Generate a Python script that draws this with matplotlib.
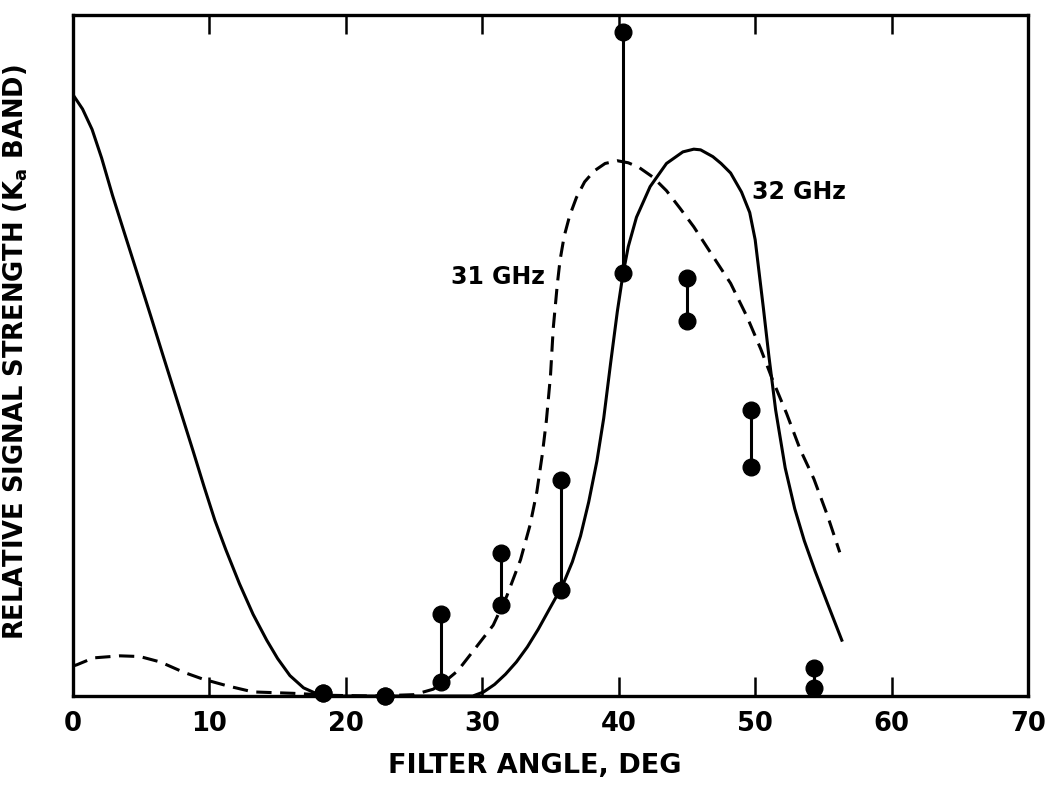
import matplotlib

matplotlib.use("Agg")
import matplotlib.pyplot as plt

plt.rcParams["font.family"] = ["DejaVu Sans"]
plt.rcParams["font.weight"] = "bold"
plt.rcParams["mathtext.fontset"] = "custom"
plt.rcParams["mathtext.rm"] = "DejaVu Sans:bold"
plt.rcParams["mathtext.bf"] = "DejaVu Sans:bold"

# 32 GHz curve (solid)
ghz32_x = [0, 0.7, 1.4, 2.1, 2.9, 3.8, 4.8, 5.7, 6.6, 7.7, 8.8, 9.6, 10.4,
           11.2, 12.2, 13.2, 14.2, 15.0, 15.9, 16.9, 17.9, 18.8, 22.0, 26.0,
           29.3, 30.1, 30.9, 31.7, 32.5, 33.3, 34.1, 34.9, 35.9, 36.6, 37.2,
           37.8, 38.4, 38.9, 39.4, 39.9, 40.3, 40.7, 41.3, 42.3, 43.5, 44.7,
           45.5, 46.0, 46.9, 47.5, 48.2, 49.0, 49.6, 50.0, 50.3, 50.6, 51.0,
           51.5, 52.2, 52.9, 53.6, 54.4, 55.3, 56.35]
ghz32_y = [0.883, 0.862, 0.832, 0.79, 0.735, 0.678, 0.615, 0.558, 0.5, 0.43,
           0.36, 0.308, 0.258, 0.215, 0.165, 0.12, 0.082, 0.055, 0.03, 0.012,
           0.003, 0.0, 0.0, 0.0, 0.0, 0.006, 0.017, 0.032, 0.05, 0.072, 0.098,
           0.127, 0.163, 0.197, 0.235, 0.285, 0.345, 0.408, 0.488, 0.565,
           0.618, 0.66, 0.703, 0.748, 0.782, 0.799, 0.803, 0.802, 0.792,
           0.782, 0.768, 0.74, 0.71, 0.67, 0.62, 0.57, 0.5, 0.42, 0.335,
           0.275, 0.228, 0.183, 0.136, 0.082]

# 31 GHz curve (dashed)
ghz31_x = [0, 0.3, 1.5, 3.45, 4.9, 6.4, 8.1, 9.5, 11.3, 13.2, 16.1, 19.0, 22.0,
           25.0, 26.4, 27.3, 28.2, 29.6, 30.8, 31.8, 32.8, 33.5, 34.0, 34.4,
           34.7, 35.0, 35.2, 35.5, 35.7, 36.0, 36.4, 36.9, 37.5, 38.2, 39.0,
           39.9, 40.7, 41.5, 42.5, 43.5, 44.5, 45.5, 46.7, 48.2, 49.4, 50.4,
           51.3, 52.3, 53.3, 54.3, 55.3, 56.2]
ghz31_y = [0.044, 0.046, 0.056, 0.059, 0.058, 0.05, 0.035, 0.025, 0.015, 0.006,
           0.004, 0.001, 0.0, 0.002, 0.01, 0.022, 0.037, 0.073, 0.104, 0.147,
           0.2, 0.251, 0.3, 0.355, 0.405, 0.471, 0.54, 0.605, 0.64, 0.675,
           0.705, 0.732, 0.755, 0.771, 0.782, 0.786, 0.783, 0.776, 0.762,
           0.742, 0.716, 0.689, 0.652, 0.606, 0.557, 0.51, 0.463, 0.415,
           0.362, 0.319, 0.265, 0.211]

# measured points: each pair joined by a vertical bar
meas_x = [18.3, 22.9, 27.0, 31.4, 35.8, 40.3, 45.0, 49.7, 54.3]
meas_hi = [0.004, 0.0, 0.12, 0.21, 0.317, 0.975, 0.614, 0.42, 0.041]
meas_lo = [0.004, 0.0, 0.021, 0.134, 0.156, 0.621, 0.551, 0.336, 0.012]

x_ticks = [0, 10, 20, 30, 40, 50, 60, 70]

fig = plt.figure(figsize=(10.47, 7.94), dpi=100)
ax = fig.add_axes([0.0697, 0.1234, 0.9122, 0.8577])

lw = 2.2
ax.plot(ghz32_x, ghz32_y, color="black", lw=lw, solid_joinstyle="round")
ax.plot(ghz31_x, ghz31_y, color="black", lw=lw, linestyle=(0, (5, 2.8)))

ax.vlines(meas_x, meas_lo, meas_hi, color="black", lw=lw, zorder=4)
ax.plot(meas_x, meas_hi, "o", color="black", ms=12, zorder=5, clip_on=False)
ax.plot(meas_x, meas_lo, "o", color="black", ms=12, zorder=5, clip_on=False)

ax.text(34.6, 0.615, "31 GHz", fontsize=17, fontweight="bold",
        ha="right", va="center")
ax.text(49.8, 0.74, "32 GHz", fontsize=17, fontweight="bold",
        ha="left", va="center")

ax.set_xlim(0, 70)
ax.set_ylim(0, 1)
ax.set_xticks(x_ticks)
ax.set_xticklabels([str(t) for t in x_ticks], fontsize=18.5, fontweight="bold")
ax.set_yticks([])
ax.tick_params(axis="x", direction="in", length=13.5, width=1.8, top=True,
               pad=11)

for sp in ax.spines.values():
    sp.set_linewidth(2.4)

ax.set_xlabel("FILTER ANGLE, DEG", fontsize=19.5, fontweight="bold")
ax.xaxis.set_label_coords(0.484, -0.083)
ax.set_ylabel(r"RELATIVE SIGNAL STRENGTH (K$_{\mathbf{a}}$ BAND)",
              fontsize=18.5, fontweight="bold")
ax.yaxis.set_label_coords(-0.045, 0.505)

fig.savefig("out.png", dpi=100)
plt.close(fig)
